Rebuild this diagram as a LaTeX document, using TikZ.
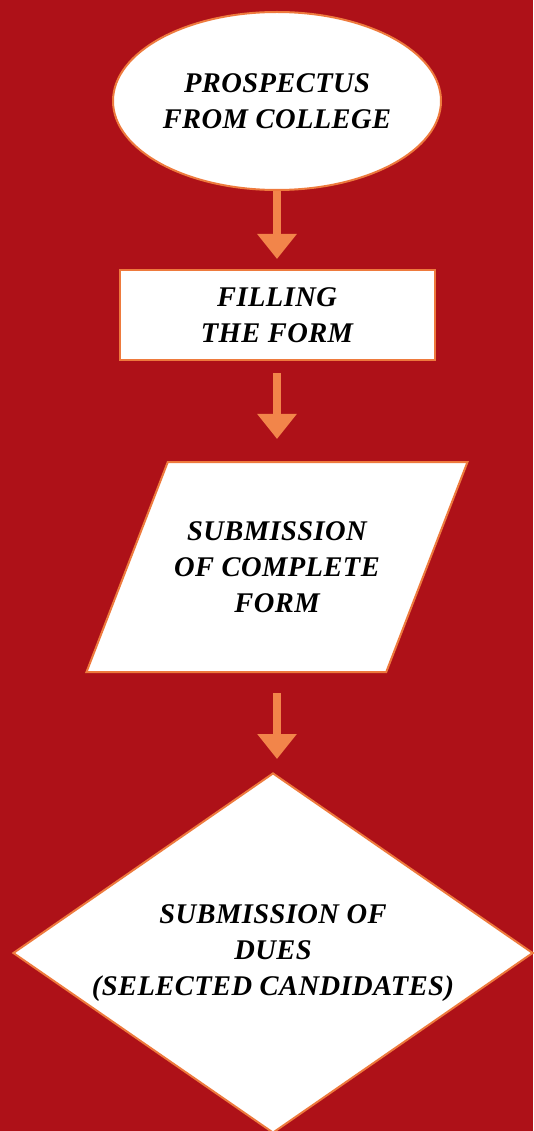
\documentclass[tikz,border=0pt]{standalone}
\usepackage{fontspec}
\setmainfont{Liberation Serif}
\newfontfamily\stagefont{Liberation Serif}[LetterSpace=1.5]
\usetikzlibrary{shapes.geometric,arrows.meta}
\definecolor{bgred}{HTML}{AE1118}
\definecolor{edgeorange}{HTML}{EE7A3D}
\definecolor{arroworange}{HTML}{F2854A}
\begin{document}
\begin{tikzpicture}[x=1pt,y=-1pt,
  stage/.style={draw=edgeorange, line width=2pt, fill=white, align=center, inner sep=0pt, font=\stagefont\fontsize{28.5}{36}\selectfont\bfseries\itshape},
  flow/.style={arroworange, line width=8pt, -{Triangle[width=38pt,length=25pt]}}]
\fill[bgred] (0,0) rectangle (533,1131);
\useasboundingbox (0,0) rectangle (533,1131);
\node[stage, ellipse, minimum width=328pt, minimum height=178pt] (a) at (277,101) {PROSPECTUS\\FROM COLLEGE};
\node[stage, rectangle, minimum width=315pt, minimum height=90pt] (b) at (277,315) {FILLING\\THE FORM};
\node[stage, trapezium, trapezium left angle=68, trapezium right angle=112, trapezium stretches body, inner ysep=55pt, minimum width=381pt, minimum height=210pt] (c) at (277,567) {SUBMISSION\\OF COMPLETE\\FORM};
\node[stage, diamond, aspect=1.44, minimum width=520pt, minimum height=360pt] (d) at (273,953) {SUBMISSION OF\\DUES\\(SELECTED CANDIDATES)};
\draw[flow, shorten >=10pt] (a) -- (b);
\draw[flow, shorten <=12pt, shorten >=22pt] (b) -- (c);
\draw[flow, shorten <=20pt, shorten >=13pt] (c.south) -- (c.south |- d.north);
\end{tikzpicture}
\end{document}
